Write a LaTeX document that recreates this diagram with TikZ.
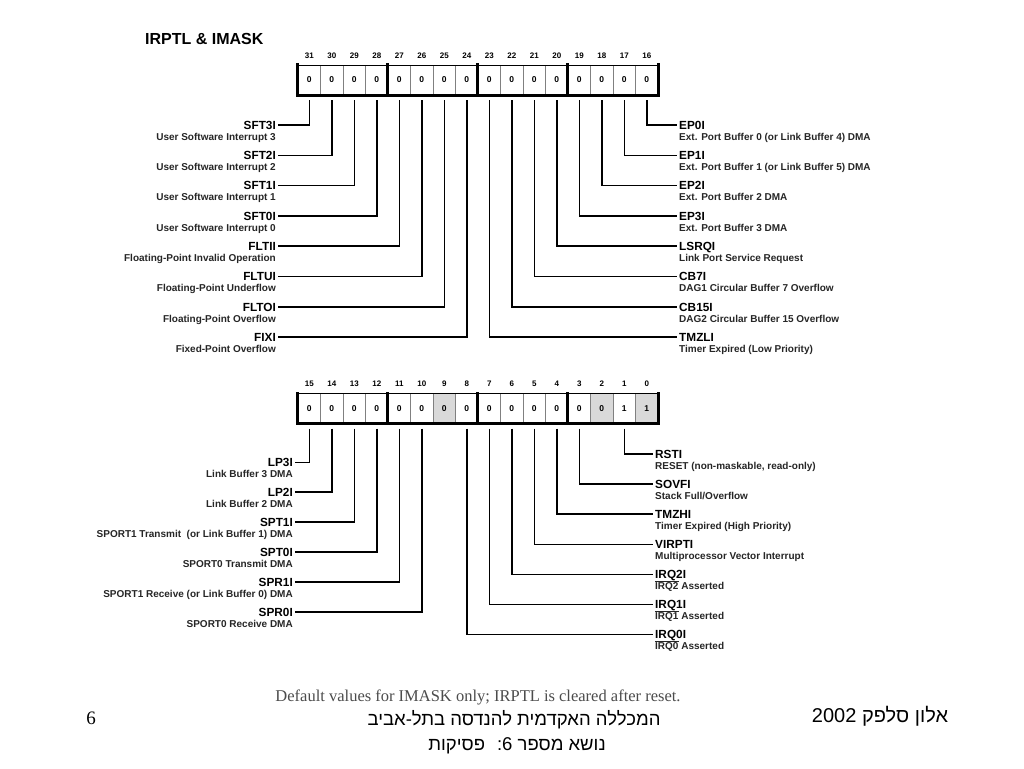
\documentclass[tikz,border=0pt]{standalone}
\usepackage{fontspec}
\setmainfont{Liberation Sans}
\newfontfamily\hebfont[Script=Hebrew]{Liberation Sans}
\newfontfamily\notefont{Liberation Serif}
\TeXXeTstate=1
\usetikzlibrary{positioning}
\newcommand\lowactive[1]{\leavevmode\vbox{\hrule height 1pt\kern1pt\hbox{#1}}}
\tikzset{ cell/.style = {draw=gray, line width=0.6pt, minimum width=22.5pt, minimum height=29.5pt, inner sep=0pt, font=\bfseries\fontsize{8.5}{9}\selectfont},
  bitno/.style = {font=\bfseries\fontsize{8}{9}\selectfont, inner sep=0pt},
  flag/.style = {font=\bfseries\fontsize{11.8}{12}\selectfont, inner sep=2pt, text height=8.5pt, text depth=0pt},
  flagdesc/.style = {font=\bfseries\fontsize{10}{11}\selectfont, inner sep=2pt, text=black!85},
  wire/.style = {line width=1.5pt, shorten <=5pt},
  bar/.style = {line width=3.5pt, line cap=rect} }

\begin{document}
\begin{tikzpicture}[x=1pt, y=-1pt]
  \useasboundingbox[fill=white] (0,0) rectangle (1024,768);
  \node[font=\bfseries\fontsize{16}{18}\selectfont, anchor=west, inner sep=0pt] (title) at (145,39) {IRPTL \& IMASK};

  % upper register
  \foreach \b in {31,...,16}
    \node[cell] (b\b) at ({298+(31-\b+0.5)*22.5},80) {0};
  \foreach \b in {31,...,16}
    \node[bitno] at ([yshift=9.5pt]b\b.north) {\b};
  \draw[line width=0.8pt] (b31.north west) -- (b16.north east);
  \draw[bar, line width=3pt] (b31.south west) -- (b16.south east);
  \foreach \b in {31,27,23,19} \draw[bar] (b\b.north west) -- (b\b.south west);
  \draw[bar] (b16.north east) -- (b16.south east);

  % lower register
  \foreach \b/\v in {15/0,14/0,13/0,12/0,11/0,10/0,9/0,8/0,7/0,6/0,5/0,4/0,3/0,2/0,1/1,0/1}
    \node[cell] (b\b) at ({298+(15-\b+0.5)*22.5},408.5) {\v};
  \foreach \b in {9,2,0} \node[cell, fill=gray!30] at (b\b) {\ifnum\b=0 1\else 0\fi};
  \foreach \b in {15,...,0}
    \node[bitno] at ([yshift=9.5pt]b\b.north) {\b};
  \draw[line width=0.8pt] (b15.north west) -- (b0.north east);
  \draw[bar, line width=3pt] (b15.south west) -- (b0.south east);
  \foreach \b in {15,11,7,3} \draw[bar] (b\b.north west) -- (b\b.south west);
  \draw[bar] (b0.north east) -- (b0.south east);

  % flags, upper word
  \foreach \b/\n/\d [count=\k from 0] in {31/SFT3I/User Software Interrupt 3, 30/SFT2I/User Software Interrupt 2,
      29/SFT1I/User Software Interrupt 1, 28/SFT0I/User Software Interrupt 0, 27/FLTII/Floating-Point Invalid Operation,
      26/FLTUI/Floating-Point Underflow, 25/FLTOI/Floating-Point Overflow, 24/FIXI/Fixed-Point Overflow} {
    \node[flag, anchor=east] (\n) at (278,{125+30.3*\k}) {\n};
    \node[flagdesc, anchor=base east] (\n-d) at ([yshift=-11pt]\n.base east) {\d};
    \draw[wire] (b\b.south) |- (\n.east);
  }
  \foreach \b/\n/\d [count=\k from 0] in {16/EP0I/Ext. Port Buffer 0 (or Link Buffer 4) DMA, 17/EP1I/Ext. Port Buffer 1 (or Link Buffer 5) DMA,
      18/EP2I/Ext. Port Buffer 2 DMA, 19/EP3I/Ext. Port Buffer 3 DMA, 20/LSRQI/Link Port Service Request,
      21/CB7I/DAG1 Circular Buffer 7 Overflow, 22/CB15I/DAG2 Circular Buffer 15 Overflow, 23/TMZLI/Timer Expired (Low Priority)} {
    \node[flag, anchor=west] (\n) at (677,{125+30.3*\k}) {\n};
    \node[flagdesc, anchor=base west] (\n-d) at ([yshift=-11pt]\n.base west) {\d};
    \draw[wire] (b\b.south) |- (\n.west);
  }

  % flags, lower word
  \foreach \b/\n/\d [count=\k from 0] in {15/LP3I/Link Buffer 3 DMA, 14/LP2I/Link Buffer 2 DMA,
      13/SPT1I/SPORT1 Transmit \ (or Link Buffer 1) DMA, 12/SPT0I/SPORT0 Transmit DMA,
      11/SPR1I/SPORT1 Receive (or Link Buffer 0) DMA, 10/SPR0I/SPORT0 Receive DMA} {
    \node[flag, anchor=east] (\n) at (295,{462.3+29.9*\k}) {\n};
    \node[flagdesc, anchor=base east] (\n-d) at ([yshift=-11pt]\n.base east) {\d};
    \draw[wire] (b\b.south) |- (\n.east);
  }
  \foreach \b/\n/\d [count=\k from 0] in {1/RSTI/{RESET (non-maskable, read-only)}, 3/SOVFI/{Stack Full/Overflow},
      4/TMZHI/Timer Expired (High Priority), 5/VIRPTI/Multiprocessor Vector Interrupt,
      6/IRQ2I/{\lowactive{IRQ2} Asserted}, 7/IRQ1I/{\lowactive{IRQ1} Asserted}, 8/IRQ0I/{\lowactive{IRQ0} Asserted}} {
    \node[flag, anchor=west] (\n) at (653,{454+30.1*\k}) {\n};
    \node[flagdesc, anchor=base west] (\n-d) at ([yshift=-11pt]\n.base west) {\d};
    \draw[wire] (b\b.south) |- (\n.west);
  }

  % footer
  \node[font=\notefont\fontsize{16.5}{18}\selectfont, text=black!70] (note) at (478,697) {Default values for IMASK only; IRPTL is cleared after reset.};
  \node[font=\hebfont\fontsize{18.5}{20}\selectfont] (college) at (514,720) {\beginR המכללה האקדמית להנדסה בתל-אביב\endR};
  \node[font=\hebfont\fontsize{18.5}{20}\selectfont] (topic) at (517,746) {\beginR נושא מספר 6: \ פסיקות\endR};
  \node[font=\hebfont\fontsize{20}{22}\selectfont] (author) at (880,716) {\beginR אלון סלפק \beginL 2002\endL\endR};
  \node[font=\notefont\fontsize{19}{20}\selectfont] (page) at (91,718) {6};
\end{tikzpicture}
\end{document}
